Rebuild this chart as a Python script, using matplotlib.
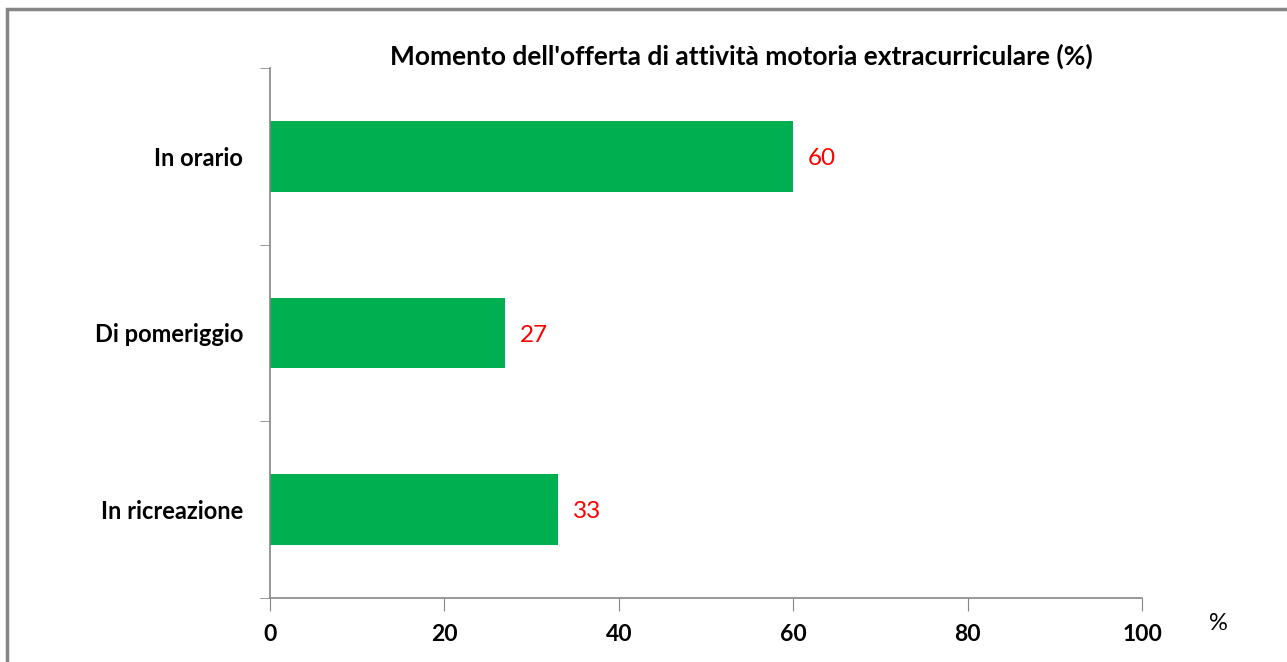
import matplotlib
matplotlib.use("Agg")
import matplotlib.pyplot as plt
from matplotlib.patches import Rectangle
import numpy as np

categories = ["In orario", "Di pomeriggio", "In ricreazione"]
values = [60, 27, 33]
xticks = [0, 20, 40, 60, 80, 100]
title = "Momento dell'offerta di attività motoria extracurriculare (%)"

plt.rcParams['font.family'] = ['Lato', 'DejaVu Sans']

W, H = 1287, 662
fig = plt.figure(figsize=(W / 100, H / 100), dpi=100)
ax = fig.add_axes([270 / W, 1 - 598 / H, 872 / W, 530 / H])

# frame around the whole chart (right/bottom edges fall outside the image)
fig.patches.append(Rectangle((7 / W, -0.1), 1.2, 1 - 9 / H + 0.1,
                             transform=fig.transFigure, fill=False,
                             edgecolor='#868686', linewidth=2.5))

pos = np.arange(len(categories))[::-1]
ax.barh(pos, values, height=0.4, color='#00B050')
for p, v in zip(pos, values):
    ax.text(v + 1.7, p, str(v), color='red', va='center_baseline', ha='left', fontsize=17.5)

ax.set_xlim(0, 100)
ax.set_ylim(-0.5, 2.5)
ax.set_xticks(xticks)
ax.set_xticklabels([str(t) for t in xticks], fontsize=16.5, fontweight='bold')
ax.set_yticks(pos)
ax.set_yticklabels(categories, fontsize=17, fontweight='bold')
ax.set_yticks([-0.5, 0.5, 1.5, 2.5], minor=True)
ax.tick_params(axis='y', which='major', length=0, pad=19.5)
ax.tick_params(axis='y', which='minor', length=7, color='#868686', direction='out')
ax.tick_params(axis='x', length=9, color='#868686', direction='out', pad=10)

for s in ['top', 'right']:
    ax.spines[s].set_visible(False)
for s in ['left', 'bottom']:
    ax.spines[s].set_color('#868686')
    ax.spines[s].set_linewidth(1.2)

fig.text(741 / W, 1 - 56 / H, title, ha='center', va='center',
         fontsize=19, fontweight='bold')
fig.text(1218 / W, 1 - 623 / H, "%", ha='center', va='center', fontsize=17)

fig.savefig("out.png", dpi=100)
